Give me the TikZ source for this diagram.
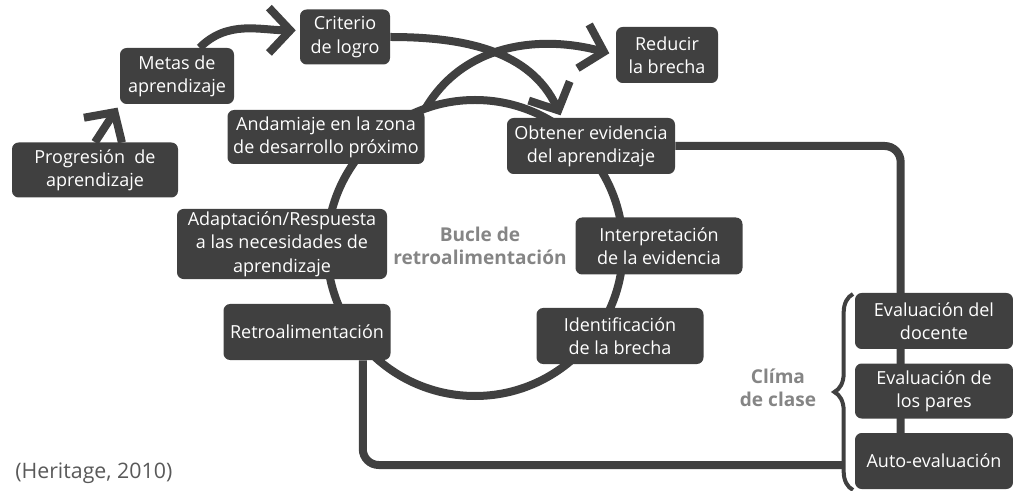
\documentclass[tikz,border=0pt]{standalone}
\usepackage{fontspec}
\setmainfont{Open Sans}
\usetikzlibrary{arrows.meta,backgrounds,decorations.pathreplacing}
\definecolor{boxgray}{HTML}{404040}
\definecolor{txtgray}{HTML}{858585}

\begin{document}
\begin{tikzpicture}[x=0.75pt,y=-0.75pt,
    blk/.style={fill=boxgray,text=white,rounded corners=5pt,align=center,inner sep=2pt,font=\fontsize{13.5}{17.5}\selectfont},
    sz/.style 2 args={minimum width=#1*0.75pt,minimum height=#2*0.75pt},
    lnk/.style={draw=boxgray,line width=6pt},
    arr/.style={lnk,-{Straight Barb[length=16pt,width=34pt]}},
    grey/.style={text=txtgray,font=\bfseries\fontsize{14.3}{17}\selectfont,align=center}]
        \useasboundingbox (0,0) rectangle (1013,491);

        \node[blk,sz={166}{55}] (prog) at (95,170) {Progresión\ \ de\\aprendizaje};
        \node[blk,sz={114}{56}] (metas) at (177,76) {Metas de\\aprendizaje};
        \node[blk,sz={90}{55}] (crit) at (345,37) {Criterio\\de logro};
        \node[blk,sz={102}{56}] (reduc) at (667,55) {Reducir\\la brecha};
        \node[blk,sz={197}{54}] (anda) at (326,137) {Andamiaje en la zona\\de desarrollo próximo};
        \node[blk,sz={168}{56}] (obt) at (591,146) {Obtener evidencia\\del aprendizaje};
        \node[blk,sz={210}{67}] (adap) at (282,244) {Adaptación/Respuesta\\a las necesidades de\\aprendizaje};
        \node[blk,sz={167}{57}] (interp) at (659,246) {Interpretación\\de la evidencia};
        \node[blk,sz={167}{56}] (retro) at (307,332) {Retroalimentación};
        \node[blk,sz={167}{56}] (ident) at (620,336) {Identificación\\de la brecha};
        \node[blk,sz={158}{56}] (doc) at (934,321) {Evaluación del\\docente};
        \node[blk,sz={158}{55}] (pares) at (934,391) {Evaluación de\\los pares};
        \node[blk,sz={158}{56}] (auto) at (934,461) {Auto-evaluación};

        \node[grey] (bucle) at (480,246) {Bucle de\\retroalimentación};
        \node[grey] (clima) at (778,388) {Clíma\\de clase};
        \node[anchor=west,text=black!65,font=\fontsize{16}{18}\selectfont,inner sep=0pt] (ref) at (15,473) {(Heritage, 2010)};

        \coordinate (brlo) at (853,490);
        \coordinate (brhi) at (853,294);
        \coordinate (clend) at (842,465);

        \begin{pgfonlayer}{background}
        \draw[lnk] (475,248) circle[radius=148];
        \draw[arr,shorten >=3pt] (prog.north) -- (metas.south west);
        \draw[arr,shorten >=3pt] ([xshift=17pt]metas.north) to[out=45,in=180] ([yshift=5pt]crit.west);
        \draw[arr,shorten >=2pt] (crit.east) to[out=0,in=115] ([xshift=-22pt]obt.north);
        \draw[arr,shorten >=5pt] (anda.north east) to[out=60,in=165] (reduc.west);
        \draw[lnk,rounded corners=12pt] (obt.east) -| ([xshift=-25pt]auto.center);
        \draw[lnk,rounded corners=12pt] ([xshift=-21pt]retro.south east) |- (clend);
        \end{pgfonlayer}
        \draw[boxgray,line width=3pt,decorate,decoration={brace,amplitude=14pt}] (brlo) -- (brhi);
\end{tikzpicture}
\end{document}
